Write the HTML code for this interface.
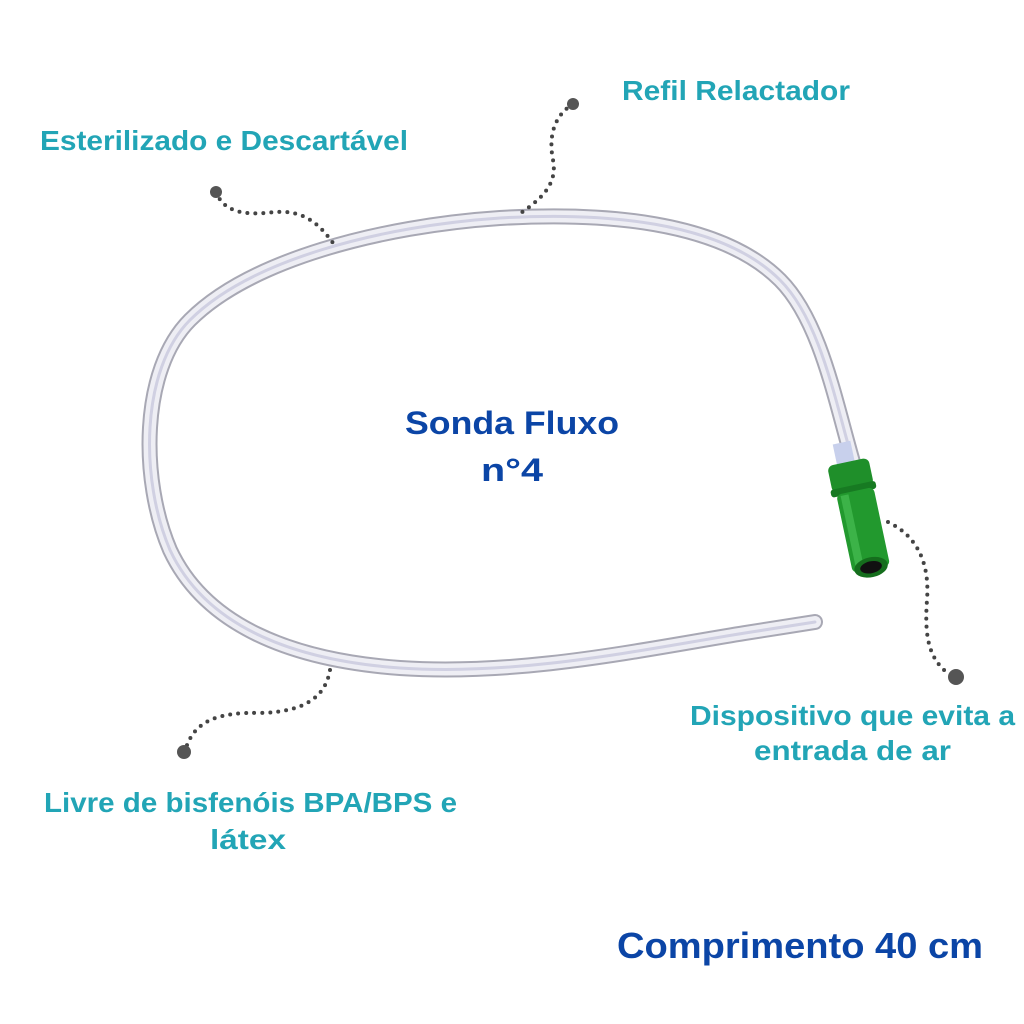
<!DOCTYPE html>
<html><head><meta charset="utf-8"><style>
html,body{margin:0;padding:0;background:#fff}
svg{display:block}
.l{font-family:"Liberation Sans",sans-serif;font-weight:bold;fill:#22a5b6;font-size:28px}
.b{font-family:"Liberation Sans",sans-serif;font-weight:bold;fill:#0b45a6}
.d{fill:none;stroke:#444;stroke-width:4;stroke-linecap:round;stroke-dasharray:0 8}
</style></head><body>
<svg width="1024" height="1024" viewBox="0 0 1024 1024">
<g fill="none" stroke-linecap="round">
<path d="M853 462 C835 400 820 320 780 280 C720 220 600 212 500 218 C380 226 250 260 190 320 C140 370 140 480 170 550 C205 625 290 660 400 668 C520 676 640 650 745 633 L815 622" stroke="#a8a8b4" stroke-width="16"/>
<path d="M853 462 C835 400 820 320 780 280 C720 220 600 212 500 218 C380 226 250 260 190 320 C140 370 140 480 170 550 C205 625 290 660 400 668 C520 676 640 650 745 633 L815 622" stroke="#eeeef4" stroke-width="12"/>
<path d="M853 462 C835 400 820 320 780 280 C720 220 600 212 500 218 C380 226 250 260 190 320 C140 370 140 480 170 550 C205 625 290 660 400 668 C520 676 640 650 745 633 L815 622" stroke="#d0d0e2" stroke-width="3"/>
</g>
<g transform="rotate(-12 862 515)">
<rect x="848" y="440" width="18" height="24" fill="#c8d0ec"/>
<rect x="838" y="460" width="42" height="28" rx="6" fill="#1f8f2a"/>
<rect x="836" y="484" width="46" height="8" rx="3" fill="#177a22"/>
<rect x="841" y="490" width="38" height="80" rx="5" fill="#22992e"/>
<rect x="845" y="492" width="8" height="72" fill="#3cb348"/>
<ellipse cx="860" cy="568" rx="17" ry="10" fill="#156e1d"/>
<ellipse cx="860" cy="568" rx="11" ry="6" fill="#111"/>
</g>
<path class="d" d="M573 104 C555 115 548 135 553 160 C558 185 540 200 518 215"/>
<circle cx="573" cy="104" r="6" fill="#555"/>
<path class="d" d="M216 192 C225 215 250 215 275 212 C305 210 320 225 333 243"/>
<circle cx="216" cy="192" r="6" fill="#555"/>
<path class="d" d="M330 670 C325 700 300 712 260 713 C220 712 195 720 186 748"/>
<circle cx="184" cy="752" r="7" fill="#555"/>
<path class="d" d="M888 522 C915 535 930 560 927 600 C924 640 930 660 950 675"/>
<circle cx="956" cy="677" r="8" fill="#555"/>
<text class="l" x="622" y="100" textLength="228" lengthAdjust="spacingAndGlyphs">Refil Relactador</text>
<text class="l" x="40" y="150" textLength="368" lengthAdjust="spacingAndGlyphs">Esterilizado e Descartável</text>
<text class="b" x="405" y="434" font-size="32" textLength="214" lengthAdjust="spacingAndGlyphs">Sonda Fluxo</text>
<text class="b" x="481" y="481" font-size="32" textLength="62" lengthAdjust="spacingAndGlyphs">n°4</text>
<text class="l" x="690" y="725" textLength="325" lengthAdjust="spacingAndGlyphs">Dispositivo que evita a</text>
<text class="l" x="754" y="760" textLength="197" lengthAdjust="spacingAndGlyphs">entrada de ar</text>
<text class="l" x="44" y="812" textLength="413" lengthAdjust="spacingAndGlyphs">Livre de bisfenóis BPA/BPS e</text>
<text class="l" x="210" y="849" textLength="76" lengthAdjust="spacingAndGlyphs">látex</text>
<text class="b" x="617" y="958" font-size="36" textLength="366" lengthAdjust="spacingAndGlyphs">Comprimento 40 cm</text>
</svg>
</body></html>
